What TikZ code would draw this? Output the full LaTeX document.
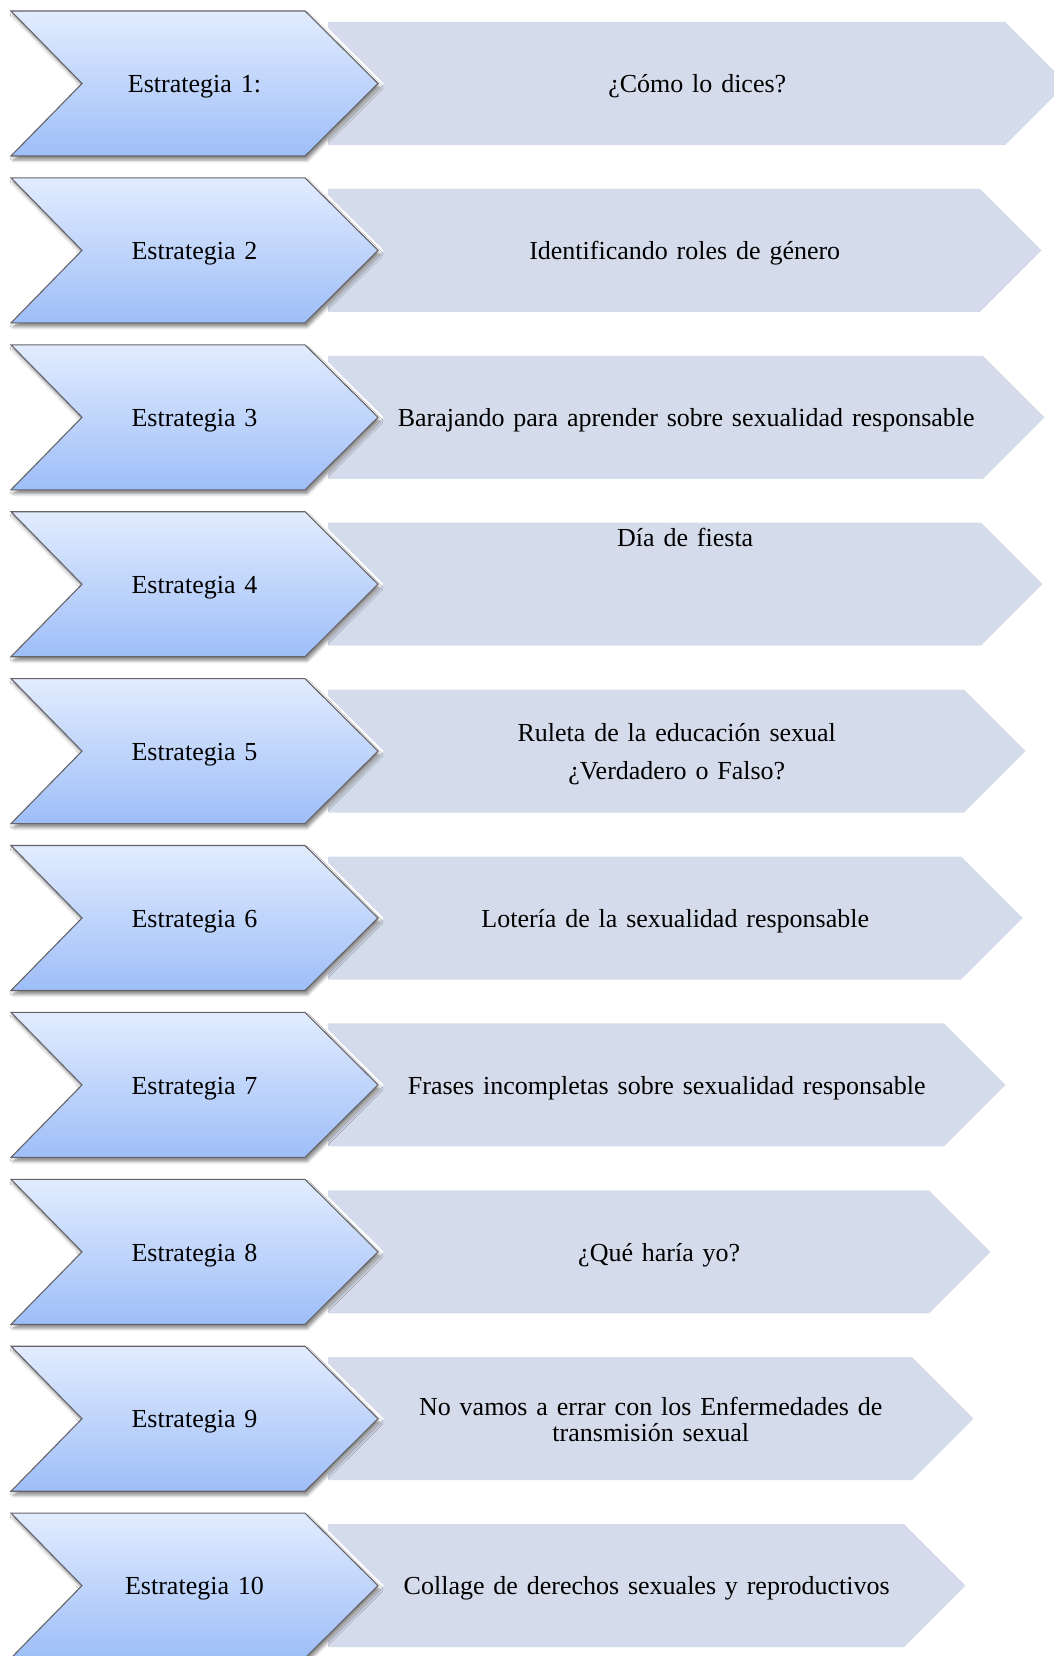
\documentclass[tikz,border=0pt]{standalone}
\usepackage{fontspec}
\setmainfont{Liberation Serif}
\usetikzlibrary{shadows.blur}
\definecolor{grayfill}{RGB}{212,219,234}
\definecolor{chevtop}{RGB}{226,236,254}
\definecolor{chevbot}{RGB}{158,190,248}
\definecolor{chevline}{RGB}{100,100,106}
\newcommand\mywordsp{\setlength{\spaceskip}{0.34em plus 0.1em minus 0.05em}}
\tikzset{
  grayarrow/.style={fill=grayfill, draw=none},
  chevfill/.style={top color=chevtop, bottom color=chevbot, draw=chevline, line width=1.1pt, line join=miter,
    blur shadow={shadow xshift=2pt, shadow yshift=-4pt, shadow blur radius=3pt, shadow opacity=45}},
  glow/.style={draw=white, line width=8pt, line join=miter},
  lbl/.style={font=\fontsize{26}{30}\selectfont\mywordsp, anchor=base, inner sep=0pt, text=black},
}
\begin{document}
\begin{tikzpicture}[x=1pt,y=-1pt]
\useasboundingbox (0,0) rectangle (1054,1656);
\clip (0,0) rectangle (1054,1656);
% gray arrows
\foreach \i/\rc in {1/1005,2/980,3/983,4/981,5/964,6/961,7/944,8/929,9/912,10/904} {
  \pgfmathsetmacro\T{11+(\i-1)*166.9}
  \fill[grayarrow] (328,\T+11) -- (\rc,\T+11) -- (\rc+61.5,\T+72.5) -- (\rc,\T+134) -- (328,\T+134) -- cycle;
}
% chevrons
\foreach \i/\lab in {1/{Estrategia 1:},2/{Estrategia 2},3/{Estrategia 3},4/{Estrategia 4},5/{Estrategia 5},6/{Estrategia 6},7/{Estrategia 7},8/{Estrategia 8},9/{Estrategia 9},10/{Estrategia 10}} {
  \pgfmathsetmacro\T{11+(\i-1)*166.9}
  \draw[glow] (11,\T) -- (305,\T) -- (378,\T+72.5) -- (305,\T+145) -- (11,\T+145) -- (82,\T+72.5) -- cycle;
  \path[chevfill] (11,\T) -- (305,\T) -- (378,\T+72.5) -- (305,\T+145) -- (11,\T+145) -- (82,\T+72.5) -- cycle;
  \node[lbl] (s\i) at (194.5,\T+81.7) {\lab};
}
% right texts
\node[lbl] (t1) at (697.25,92.7) {¿Cómo lo dices?};
\node[lbl] (t2) at (684.75,259.6) {Identificando roles de género};
\node[lbl] (t3) at (686.25,426.5) {Barajando para aprender sobre sexualidad responsable};
\node[lbl] (t4) at (685.25,546.7) {Día de fiesta};
\node[lbl] (t5a) at (676.75,741.7) {Ruleta de la educación sexual};
\node[lbl] (t5b) at (676.75,779.0) {¿Verdadero o Falso?};
\node[lbl] (t6) at (675.25,927.2) {Lotería de la sexualidad responsable};
\node[lbl] (t7) at (666.75,1094.1) {Frases incompletas sobre sexualidad responsable};
\node[lbl] (t8) at (659.25,1261.0) {¿Qué haría yo?};
\node[lbl] (t9a) at (650.75,1415.0) {No vamos a errar con los Enfermedades de};
\node[lbl] (t9b) at (650.75,1441.7) {transmisión sexual};
\node[lbl] (t10) at (646.75,1594.8) {Collage de derechos sexuales y reproductivos};
\end{tikzpicture}
\end{document}
